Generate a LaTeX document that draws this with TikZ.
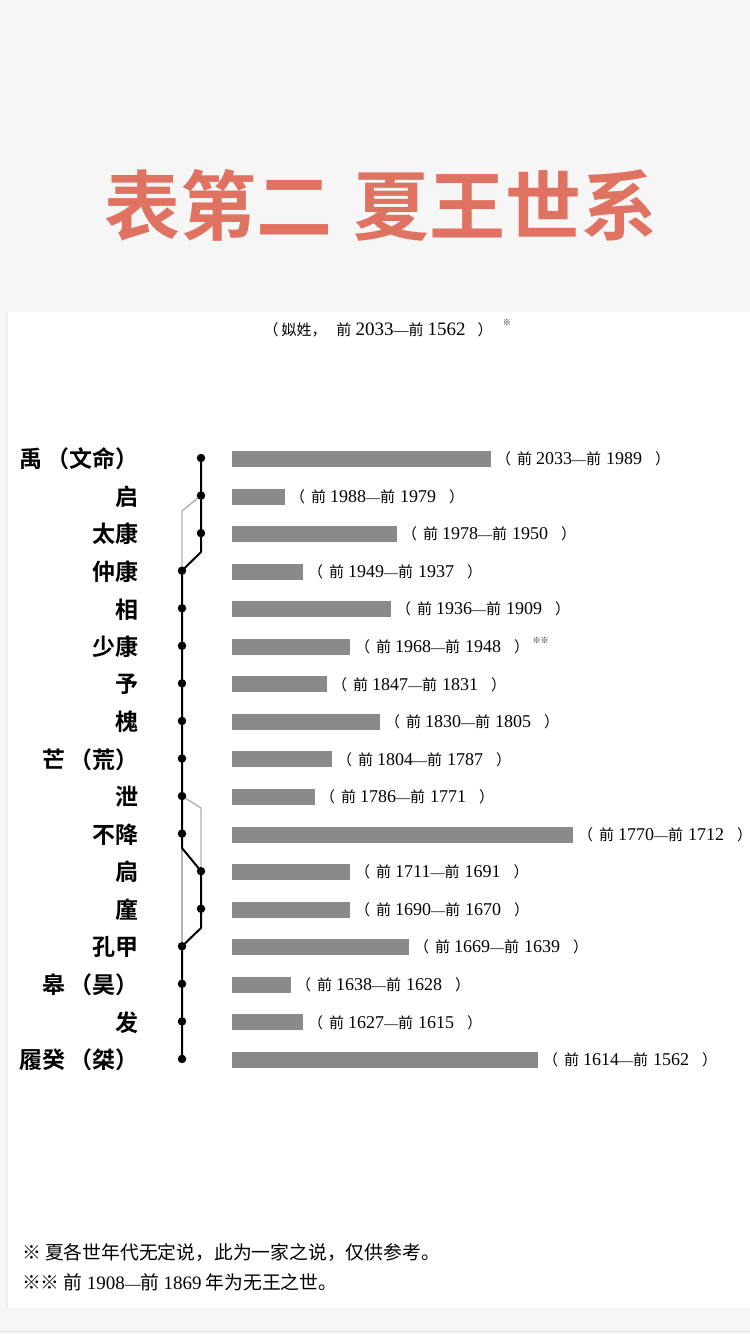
\documentclass[tikz,border=0pt]{standalone}
\usepackage{fontspec}
\setmainfont{Liberation Serif}
\newfontfamily\cjk{Noto Sans CJK SC}[BoldFont={Noto Sans CJK SC Bold}]
\usetikzlibrary{backgrounds}
\definecolor{titlered}{RGB}{224,114,98}
\definecolor{bargray}{RGB}{138,138,138}
\definecolor{pagegray}{RGB}{246,246,246}
\definecolor{linkgray}{RGB}{178,178,178}
\newcommand{\cj}[2][15]{{\cjk\fontsize{#1}{#1}\selectfont #2}}
\newcommand{\emd}[1][14]{{\fontsize{#1}{#1}\selectfont —}}
\newcommand{\reign}[2]{\cj{（}\hspace{6pt}\cj{前}\hspace{4pt}#1\emd\cj{前}\hspace{5pt}#2\hspace{13pt}\makebox[8pt][l]{\cj{）}}}
\newcommand{\alias}[1]{\hspace{4pt}（#1）}

\begin{document}
\begin{tikzpicture}[x=1pt,y=-1pt,
    dot/.style={circle,fill=black,inner sep=0pt,minimum size=8.5pt},
    heir/.style={line width=2pt,black},
    kin/.style={line width=1.4pt,linkgray},
    bar/.style={fill=bargray},
    king/.style={anchor=east,inner sep=0pt,font=\cjk\bfseries\fontsize{23}{23}\selectfont},
    dates/.style={anchor=west,inner sep=0pt,font=\fontsize{18}{18}\selectfont},
    note/.style={inner sep=0pt,font=\cjk\fontsize{8}{8}\selectfont},
    fnote/.style={anchor=west,inner sep=0pt,font=\fontsize{19}{19}\selectfont}]

  \useasboundingbox (0,0) rectangle (750,1334);

  % title and subtitle
  \node[titlered, font=\cjk\bfseries\fontsize{76}{76}\selectfont] (title) at (381,205) {表第二\hspace{22pt}夏王世系};
  \node[inner sep=0pt, font=\fontsize{19}{19}\selectfont] (sub) at (378,330)
    {\cj{（}\hspace{3pt}\cj{姒姓，}\hspace{10pt}\cj{前}\hspace{4pt}2033\emd[15]\cj{前}\hspace{4pt}1562\hspace{12pt}\cj{）}};
  \node[note, anchor=west] (subnote) at ([xshift=10pt,yshift=7pt]sub.east) {※};

  % kings, reigns and dots
  \foreach \name/\len/\dx/\from/\to [count=\n] in {
      禹\alias{文命}/491/201/2033/1989, 启/285/201/1988/1979, 太康/397/201/1978/1950,
      仲康/303/182/1949/1937, 相/391/182/1936/1909, 少康/350/182/1968/1948,
      予/327/182/1847/1831, 槐/380/182/1830/1805, 芒\alias{荒}/332/182/1804/1787,
      泄/315/182/1786/1771, 不降/573/182/1770/1712, 扃/350/201/1711/1691,
      廑/350/201/1690/1670, 孔甲/409/182/1669/1639, 皋\alias{昊}/291/182/1638/1628,
      发/303/182/1627/1615, 履癸\alias{桀}/538/182/1614/1562}{
    \pgfmathsetmacro{\ry}{459+(\n-1)*37.56}
    \node[king] (k\n) at (139,\ry) {\name};
    \fill[bar] (232,\ry-8) rectangle (\len,\ry+8);
    \node[dates] (r\n) at (\len+5,\ry) {\reign{\from}{\to}};
    \node[dot] (d\n) at (\dx,\ry-1) {};
  }
  \node[note, anchor=south west] (r6note) at ([xshift=10pt,yshift=3pt]r6.east) {※※};

  % bends of the lines
  \coordinate (b1) at (201,552);
  \coordinate (b2) at (182,848);
  \coordinate (b3) at (201,928);
  \coordinate (g1) at (182,511);
  \coordinate (g2) at (201,808);

  \begin{pgfonlayer}{background}
    \fill[pagegray] (0,0) rectangle (750,1334);
    \fill[white] (6,312) rectangle (750,1308);
    \draw[black!7, line width=2pt] (7,312) -- (7,1308);
    \draw[black!10, line width=1pt] (0,1331) -- (750,1331);
    \draw[kin] (d2.center) -- (g1) -- (d4.center);
    \draw[kin] (d10.center) -- (g2) -- (d12.center);
    \draw[kin] (d11.center) -- (d14.center);
    \draw[heir] (d1.center) -- (d3.center) -- (b1) -- (d4.center) -- (d11.center) -- (b2)
      -- (d12.center) -- (d13.center) -- (b3) -- (d14.center) -- (d17.center);
  \end{pgfonlayer}

  % footnotes
  \node[fnote] (fn1) at (22,1253) {\cj[18.8]{※ 夏各世年代无定说，此为一家之说，仅供参考。}};
  \node[fnote] (fn2) at (22,1282) {\cj[18.8]{※※ 前}\hspace{4pt}1908\emd[16]\cj[18.8]{前}\hspace{4pt}1869\hspace{4pt}\cj[18.8]{年为无王之世。}};
\end{tikzpicture}
\end{document}
